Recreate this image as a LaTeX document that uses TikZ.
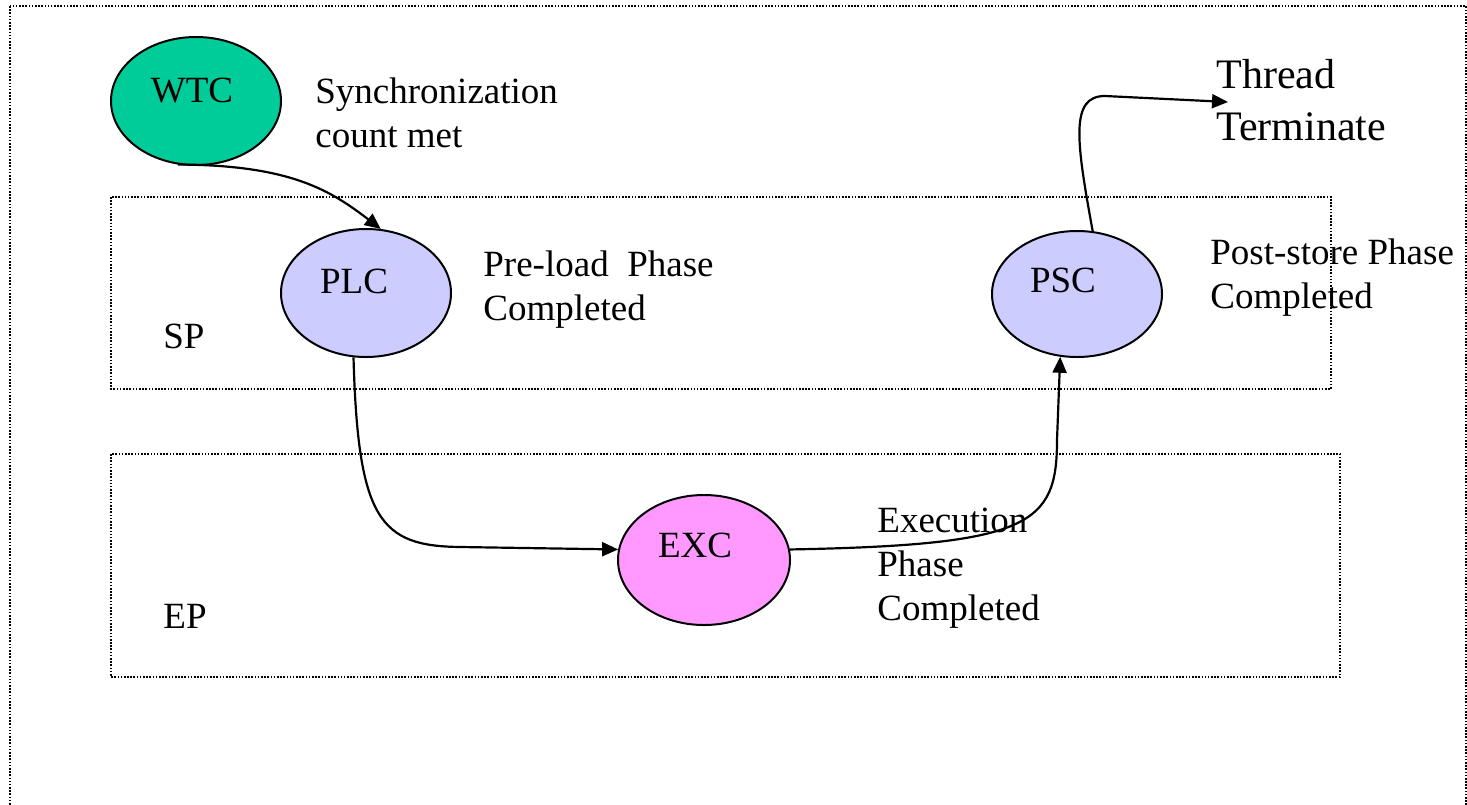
\documentclass[tikz,border=0pt]{standalone}
\usepackage{fontspec}
\setmainfont{Liberation Serif}
\usetikzlibrary{arrows.meta,shapes.geometric}
\definecolor{wtcgreen}{RGB}{0,204,153}
\definecolor{spblue}{RGB}{204,204,255}
\definecolor{expink}{RGB}{255,153,255}
\begin{document}
\begin{tikzpicture}[x=0.5bp,y=-0.5bp,
  phasebox/.style={line width=0.8pt, dash pattern=on 0.8pt off 0.8pt},
  state/.style={ellipse, draw, line width=1pt, inner sep=0pt},
  sname/.style={anchor=base, inner sep=0pt, font=\fontsize{18.5bp}{22bp}\selectfont},
  lbl/.style={anchor=base west, inner sep=0pt, align=left, font=\fontsize{18.5bp}{22bp}\selectfont},
  biglbl/.style={anchor=base west, inner sep=0pt, align=left, font=\fontsize{21bp}{26bp}\selectfont},
  flow/.style={line width=1.1pt, -{Triangle[length=8bp,width=7bp]}}]
\useasboundingbox (0,0) rectangle (1467,804);
\clip (0,0) rectangle (1467,804);
\fill[white] (0,0) rectangle (1467,804);

% frame and the two phase regions
\draw[phasebox] (10,6) rectangle (1466,830);
\draw[phasebox] (111,197) rectangle (1331,389);
\draw[phasebox] (111,454) rectangle (1340,677);

% states
\node[state, fill=wtcgreen, minimum width=85bp, minimum height=64bp] (wtc) at (196,101) {};
\node[state, fill=spblue, minimum width=85bp, minimum height=64bp] (plc) at (366,293) {};
\node[state, fill=spblue, minimum width=85bp, minimum height=63bp] (psc) at (1077,294) {};
\node[state, fill=expink, minimum width=86bp, minimum height=65bp] (exc) at (704,560) {};

\node[sname] (wtcname) at (192,102) {WTC};
\node[sname] (plcname) at (354,293) {PLC};
\node[sname] (pscname) at (1063,292) {PSC};
\node[sname] (excname) at (695,557) {EXC};

% region names
\node[lbl] (sp) at (163,348) {SP};
\node[lbl] (ep) at (163,628) {EP};

% transition labels (placed by the baseline of their last line)
\node[lbl] (sync) at (315,147) {Synchronization\\count met};
\node[lbl] (preload) at (483,320) {Pre-load\ \ Phase\\Completed};
\node[lbl] (poststore) at (1210,308) {Post-store Phase\\Completed};
\node[lbl] (execdone) at (877,620) {Execution\\Phase\\Completed};
\node[biglbl] (term) at (1216,140) {Thread\\Terminate};
\coordinate (termin) at (1228,102);

% transitions
\draw[flow] (wtc.-106) .. controls (290,165) and (330,190) .. (plc.77);
\draw[flow] (plc.-101) .. controls (358,520) and (380,546) .. (460,547) -- (exc.173);
\draw[flow] (exc.7) .. controls (1030,545) and (1057,525) .. (1057,440) -- (psc.-105);
\draw[flow] (psc.76) .. controls (1076,140) and (1070,96) .. (1105,96) -- (termin);
\end{tikzpicture}
\end{document}
